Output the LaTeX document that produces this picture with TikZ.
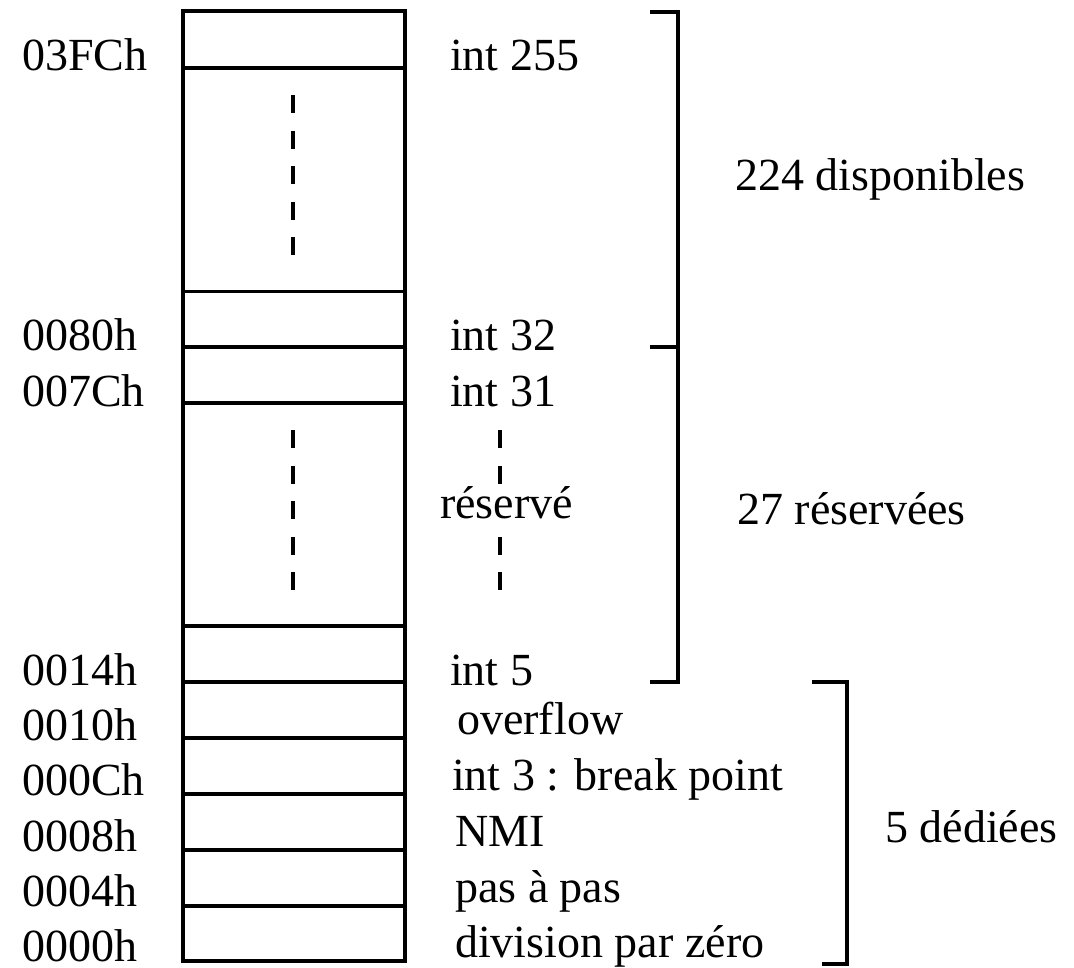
\documentclass[tikz,border=0pt]{standalone}
\usepackage{fontspec}
\setmainfont{Liberation Serif}
\begin{document}
\begin{tikzpicture}[x=1pt,y=-1pt,
  lbl/.style={anchor=base west, inner sep=0pt, font=\fontsize{46}{50}\selectfont},
  wall/.style={line width=4.6pt},
  sep/.style={line width=4.2pt},
  thinsep/.style={line width=3pt},
  dots/.style={line width=4.2pt, dash pattern=on 18pt off 17.5pt},
  brk/.style={line width=4.8pt, line join=miter}]
\useasboundingbox (0,0) rectangle (1074,967);
% memory column
\draw[wall] (183,11) rectangle (405,961);
\foreach \yy in {68,347,403,626,682,738,794,850,906}
  \draw[sep] (183,\yy) -- (405,\yy);
\draw[thinsep] (183,291) -- (405,291);
% dashed continuation marks
\draw[dots] (293,95) -- (293,258);
\draw[dots] (293,430) -- (293,592);
\draw[dots] (500,430) -- (500,592);
% addresses
\node[lbl] (a1) at (22,70) {03FCh};
\node[lbl] (a2) at (22,350) {0080h};
\node[lbl] (a3) at (22,406) {007Ch};
\node[lbl] (a4) at (22,685) {0014h};
\node[lbl] (a5) at (22,740) {0010h};
\node[lbl] (a6) at (22,795) {000Ch};
\node[lbl] (a7) at (22,851) {0008h};
\node[lbl] (a8) at (22,906) {0004h};
\node[lbl] (a9) at (22,961) {0000h};
% vector names
\node[lbl] (v1) at (450,70) {int 255};
\node[lbl] (v2) at (450,350) {int 32};
\node[lbl] (v3) at (450,406) {int 31};
\node[lbl, fill=white, inner sep=2pt] (v4) at (438,518) {réservé};
\node[lbl] (v5) at (450,685) {int 5};
\node[lbl] (v6) at (457,734) {overflow};
\node[lbl] (v7) at (452,790) {int 3 : break point};
\node[lbl] (v8) at (455,846) {NMI};
\node[lbl] (v9) at (455,902) {pas à pas};
\node[lbl] (v10) at (455,957) {division par zéro};
% groups
\draw[brk] (650,12) -- (678,12) -- (678,682) -- (650,682);
\draw[brk] (650,347) -- (678,347);
\draw[brk] (812,682) -- (847,682) -- (847,964) -- (822,964);
\node[lbl] (g1) at (735,190) {224 disponibles};
\node[lbl] (g2) at (737,524) {27 réservées};
\node[lbl] (g3) at (885,842) {5 dédiées};
\end{tikzpicture}
\end{document}
